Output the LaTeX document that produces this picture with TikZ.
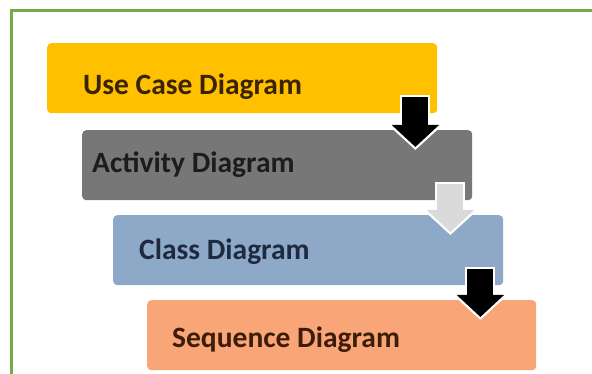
\documentclass[tikz,border=0pt]{standalone}
\usepackage{fontspec}
\setmainfont{Carlito}
\usetikzlibrary{arrows.meta,calc}

\definecolor{frameGreen}{HTML}{70AD47}
\definecolor{useYellow}{HTML}{FFC000}
\definecolor{actGray}{HTML}{777777}
\definecolor{clsBlue}{HTML}{8EA9C8}
\definecolor{seqOrange}{HTML}{F8A577}
\definecolor{flowLight}{HTML}{DADADA}
\definecolor{useText}{HTML}{3A2300}
\definecolor{actText}{HTML}{1C1C1C}
\definecolor{clsText}{HTML}{1E2A40}
\definecolor{seqText}{HTML}{3D1C0A}

\begin{document}
\begin{tikzpicture}[
			x=1pt, y=-1pt,
			block/.style={rounded corners=4pt, minimum width=390pt, minimum height=70pt, anchor=north west, inner sep=0pt},
			label/.style={anchor=base west, inner sep=0pt, font=\fontsize{29.5}{32}\selectfont\bfseries},
			flow/.style={line width=26pt, draw=#1, -{Triangle[length=22pt,width=46pt]},
				preaction={draw=white, line width=30pt, shorten >=-3pt, shorten <=-2pt, -{Triangle[length=25pt,width=53pt]}}}
			]
			\useasboundingbox (0,0) rectangle (592,374);
			\draw[frameGreen, line width=3pt] (11,380) -- (11,11) -- (600,11);
			
			\node[block, fill=useYellow] (use) at (47,43) {};
			\node[block, fill=actGray] (act) at (82,130) {};
			\node[block, fill=clsBlue] (cls) at (113,215) {};
			\node[block, fill=seqOrange, minimum width=389pt] (seq) at (147,300) {};
			
			\node[label, text=useText] (uselbl) at ([xshift=36pt,yshift=-52pt]use.north west) {Use Case Diagram};
			\node[label, text=actText] (actlbl) at ([xshift=10pt,yshift=-43pt]act.north west) {Activity Diagram};
			\node[label, text=clsText] (clslbl) at ([xshift=26pt,yshift=-45pt]cls.north west) {Class Diagram};
			\node[label, text=seqText] (seqlbl) at ([xshift=25pt,yshift=-47pt]seq.north west) {Sequence Diagram};
			
			\coordinate (a1) at ([xshift=-22pt,yshift=16pt]use.south east);
			\coordinate (a2) at ([xshift=-22pt,yshift=16pt]act.south east);
			\coordinate (a3) at ([xshift=-23pt,yshift=16pt]cls.south east);
			\draw[flow=black] (a1) -- ($(a1 |- act.north)+(0,-17pt)$);
			\draw[flow=flowLight] (a2) -- ($(a2 |- cls.north)+(0,-17pt)$);
			\draw[flow=black] (a3) -- ($(a3 |- seq.north)+(0,-17pt)$);
		\end{tikzpicture}
\end{document}
